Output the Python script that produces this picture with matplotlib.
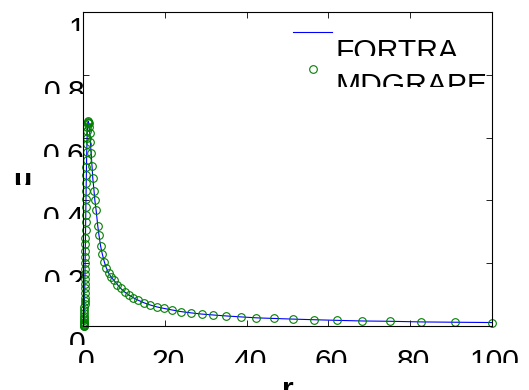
import matplotlib
matplotlib.use('Agg')
import matplotlib.pyplot as plt
from matplotlib.transforms import Affine2D, Bbox

# values
r = [0.15, 0.17, 0.19, 0.21, 0.23, 0.25, 0.26, 0.28, 0.29, 0.31, 0.32, 0.34,
     0.35, 0.37, 0.38, 0.40, 0.41, 0.43, 0.45, 0.46, 0.48, 0.50, 0.52, 0.54,
     0.56, 0.58, 0.60, 0.63, 0.65, 0.68, 0.70, 0.73, 0.76, 0.79, 0.82, 0.85,
     0.88, 0.92, 0.96, 1.00, 1.05, 1.10, 1.15, 1.20, 1.28, 1.36, 1.50, 1.65,
     1.80, 2.0, 2.2, 2.4, 2.7, 2.9, 3.2, 3.6, 3.9, 4.3, 4.7, 5.2, 5.7, 6.3,
     6.9, 7.6, 8.4, 9.2, 10.2, 11.2, 12.3, 13.5, 14.9, 16.4, 18.0, 19.8, 21.8,
     23.9, 26.3, 29.0, 31.9, 35.0, 38.6, 42.4, 46.7, 51.3, 56.4, 62.1, 68.3,
     75.1, 82.6, 90.9, 100.0]
u = [0.0, 0.001, 0.002, 0.004, 0.007, 0.01, 0.014, 0.019, 0.025, 0.032, 0.04,
     0.05, 0.06, 0.07, 0.08, 0.09, 0.105, 0.12, 0.135, 0.15, 0.165, 0.18, 0.20,
     0.22, 0.24, 0.26, 0.28, 0.305, 0.33, 0.355, 0.38, 0.405, 0.43, 0.455,
     0.48, 0.505, 0.53, 0.555, 0.58, 0.60, 0.62, 0.635, 0.645, 0.65, 0.652,
     0.648, 0.635, 0.615, 0.585, 0.55, 0.51, 0.47, 0.43, 0.40, 0.37, 0.32,
     0.29, 0.255, 0.23, 0.205, 0.185, 0.168, 0.155, 0.145, 0.132, 0.12, 0.108,
     0.099, 0.09, 0.082, 0.074, 0.067, 0.061, 0.056, 0.051, 0.046, 0.042,
     0.038, 0.035, 0.032, 0.029, 0.026, 0.024, 0.022, 0.020, 0.018, 0.016,
     0.015, 0.013, 0.012, 0.011]

xticks = [0, 20, 40, 60, 80, 100]
xtick_labels = ['0', '20', '40', '60', '80', '100']
yticks = [0, 0.2, 0.4, 0.6, 0.8, 1]
ytick_labels = ['0', '0.2', '0.4', '0.6', '0.8', '1']
names = ['FORTRA', 'MDGRAPE']

plt.rcParams['font.family'] = ['Liberation Sans', 'DejaVu Sans']
W, H = 529, 390
fs = 21.6
fig = plt.figure(figsize=(W/100, H/100), dpi=100)
ax = fig.add_axes([83/W, 1-326/H, 409/W, 314/H])

ax.plot(r, u, color='b', lw=0.8, label=names[0])
ax.plot(r, u, 'o', mfc='none', mec=(0, 0.5, 0), ms=5.5, mew=0.8,
        clip_on=False, label=names[1])
ax.set_xlim(0, 100)
ax.set_ylim(0, 1)
ax.set_xticks(xticks, xtick_labels)
ax.set_yticks(yticks, ytick_labels)
ax.tick_params(direction='in', length=4, width=0.6, top=True, right=True,
               labelsize=fs, pad=2)
ax.tick_params(axis='y', pad=-1.5)
for s in ax.spines.values():
    s.set_linewidth(0.8)
ax.set_xlabel('r', fontsize=fs, fontweight='bold', va='top')
ax.set_ylabel('u', fontsize=fs, fontweight='bold', rotation=0, ha='center', va='top')
ax.xaxis.set_label_coords(0.5, -0.16)
ax.yaxis.set_label_coords(-0.148, 0.5)
leg = ax.legend(loc='upper left', bbox_to_anchor=(293/W, 1-20/H),
                bbox_transform=fig.transFigure, frameon=False, fontsize=fs,
                handlelength=1.3, handletextpad=0.1, labelspacing=0.3,
                borderpad=0, borderaxespad=0, numpoints=1)

fig.canvas.draw()


def cut(t, top, keep, dx=0, right=None):
    # move text so its top sits at 'top' px, show only 'keep' px of it
    bb = t.get_window_extent()
    dy = (H - top) - bb.y1
    t.set_transform(t.get_transform() + Affine2D().translate(dx, dy))
    x1 = bb.x1 + dx + 20 if right is None else right
    t.set_clip_box(Bbox.from_extents(bb.x0 + dx - 20, H - top - keep, x1, H - top + 5))
    t.set_clip_on(True)


for t in ax.get_xticklabels():
    cut(t, 348, 14.5, dx=3)
for v, t in zip(yticks, ax.get_yticklabels()):
    ty = H - ax.transData.transform((0, v))[1]
    cut(t, ty + 4.5, 14.5)
cut(ax.yaxis.label, 167, 18)
cut(ax.xaxis.label, 376, 20)
lt = leg.get_texts()
cut(lt[0], 38.5, 17)
cut(lt[1], 72, 15, right=490)

fig.savefig('out.png', dpi=100)
